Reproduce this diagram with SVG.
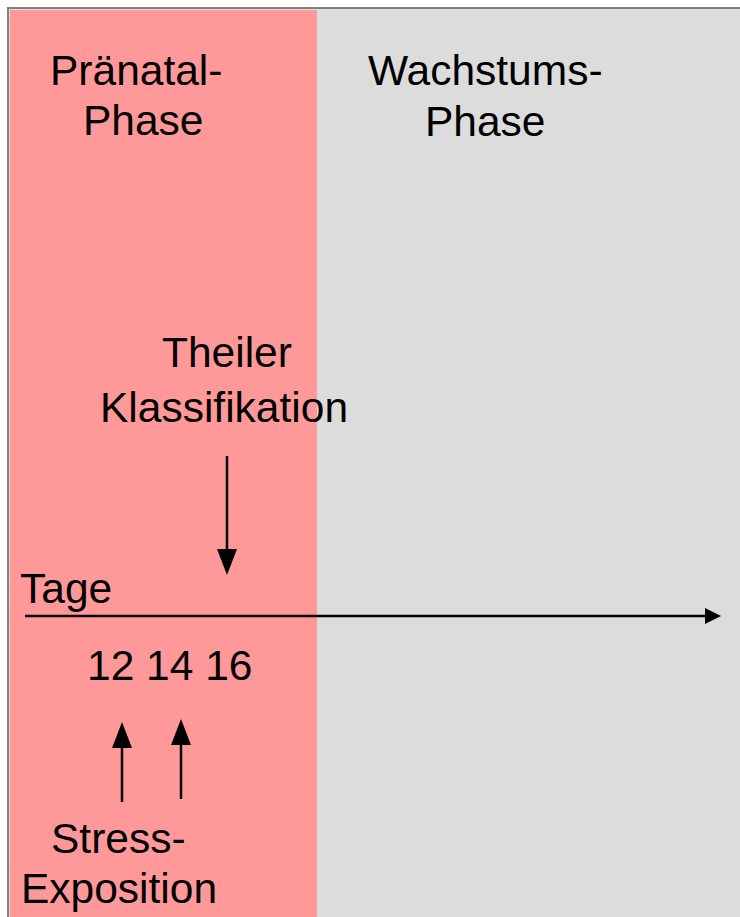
<svg xmlns="http://www.w3.org/2000/svg" width="740" height="917" viewBox="0 0 740 917">
  <style>
    .lbl { font-family: "Liberation Sans", Arial, sans-serif; font-size: 42.5px; fill: #000; }
    .conn { stroke: #000; stroke-width: 2.5; fill: none; }
  </style>
  <defs>
    <marker id="headBig" markerUnits="userSpaceOnUse" markerWidth="26" markerHeight="20" refX="0" refY="10" orient="auto">
      <path d="M0,0 L26,10 L0,20 z" fill="#000"/>
    </marker>
    <marker id="headAxis" markerUnits="userSpaceOnUse" markerWidth="16" markerHeight="16" refX="0" refY="8" orient="auto">
      <path d="M0,0 L16,8 L0,16 z" fill="#000"/>
    </marker>
  </defs>

  <rect x="0" y="0" width="740" height="917" fill="#ffffff"/>

  <!-- phase bands -->
  <g id="phase-growth">
    <rect x="8" y="8" width="740" height="920" fill="#dcdcdc" stroke="#7f7f7f" stroke-width="2"/>
  </g>
  <g id="phase-prenatal">
    <rect x="10" y="10" width="307" height="910" fill="#ff9999"/>
  </g>

  <!-- labels -->
  <g id="label-prenatal">
    <text class="lbl" x="50" y="85">Pränatal-</text>
    <text class="lbl" x="83" y="135">Phase</text>
  </g>
  <g id="label-growth">
    <text class="lbl" x="368" y="85">Wachstums-</text>
    <text class="lbl" x="425" y="136">Phase</text>
  </g>
  <g id="label-theiler">
    <text class="lbl" x="162" y="367">Theiler</text>
    <text class="lbl" x="100" y="422">Klassifikation</text>
  </g>
  <g id="label-days">
    <text class="lbl" x="20" y="603">Tage</text>
  </g>
  <g id="label-day-values">
    <text class="lbl" x="87" y="680">12 14 16</text>
  </g>
  <g id="label-stress">
    <text class="lbl" x="51" y="853">Stress-</text>
    <text class="lbl" x="21" y="903">Exposition</text>
  </g>

  <!-- connectors -->
  <g id="connectors">
    <line class="conn" x1="25" y1="616" x2="705" y2="616" marker-end="url(#headAxis)"/>
    <line class="conn" x1="227" y1="456" x2="227" y2="549" marker-end="url(#headBig)"/>
    <line class="conn" x1="122" y1="802" x2="122" y2="748" marker-end="url(#headBig)"/>
    <line class="conn" x1="181" y1="799" x2="181" y2="745" marker-end="url(#headBig)"/>
  </g>
</svg>
